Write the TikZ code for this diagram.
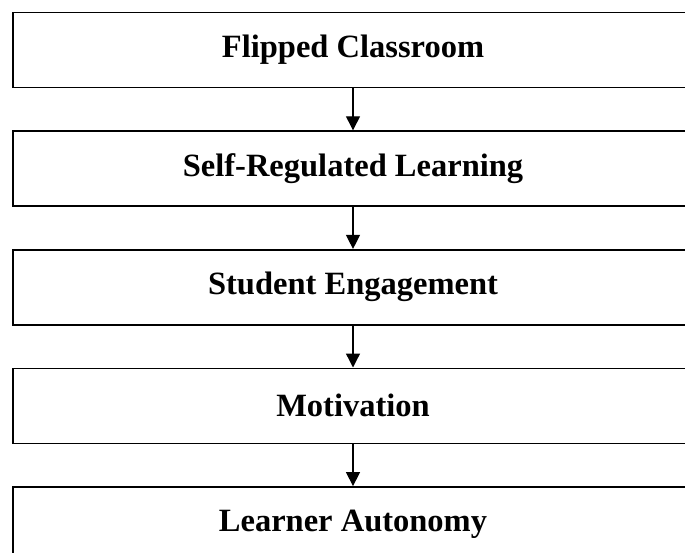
\documentclass[tikz,border=0pt]{standalone}
\usepackage{fontspec}
\setmainfont{Liberation Serif}
\usepackage{tikz}
\usetikzlibrary{arrows.meta,positioning}

\begin{document}
\begin{tikzpicture}[x=1pt,y=1pt]

\tikzset{stage/.style={draw=black, line width=1.6pt, rectangle, minimum width=680pt, minimum height=75pt, inner sep=0pt, font=\fontsize{32.5}{38}\selectfont\bfseries},
%arrow between two stages
link/.style={line width=1.3pt, -{Triangle[width=14pt,length=14pt]}}}

\useasboundingbox (0,0) rectangle (685,-552);
\clip (0,0) rectangle (685,-552);

\node[stage] (flip) at (353,-50) {Flipped Classroom};
\node[stage, below=42pt of flip] (srl) {Self-Regulated Learning};
\node[stage, below=42pt of srl] (eng) {Student Engagement};
\node[stage, below=42pt of eng] (mot) {Motivation};
\node[stage, below=42pt of mot] (aut) {Learner Autonomy};

\foreach \a/\b in {flip/srl, srl/eng, eng/mot, mot/aut}
\draw[link] (\a.south) -- (\b.north);

\end{tikzpicture}
\end{document}
